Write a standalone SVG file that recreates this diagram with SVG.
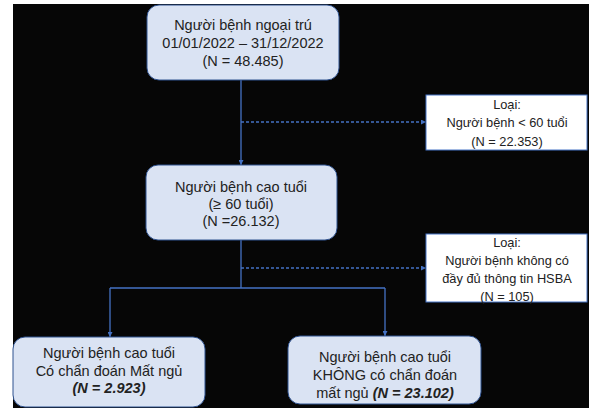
<svg xmlns="http://www.w3.org/2000/svg" width="589" height="408" viewBox="0 0 589 408">
<style>
.box{fill:#dae3f3;stroke:#2f528f;stroke-width:1}
.exc{fill:#ffffff;stroke:#4472c4;stroke-width:1}
.t{font-family:"Liberation Sans",Arial,sans-serif;font-size:14.5px;fill:#222;text-anchor:middle}
.e{font-family:"Liberation Sans",Arial,sans-serif;font-size:12.8px;fill:#222;text-anchor:middle}
.line{stroke:#4472c4;stroke-width:1.3;fill:none}
.dash{stroke:#4472c4;stroke-width:1.3;fill:none;stroke-dasharray:3 2}
</style>
<defs>
<marker id="ah" viewBox="0 0 6 6" refX="6" refY="3" markerWidth="5" markerHeight="5" orient="auto" markerUnits="userSpaceOnUse">
<path d="M0,0 L6,3 L0,6 Z" fill="#4472c4"/>
</marker>
</defs>
<rect id="background" x="13" y="4" width="576" height="404" fill="#060606"/>
<g id="connectors">
<path class="line" d="M241,80 V165" marker-end="url(#ah)"/>
<path class="dash" d="M241,122 H426" marker-end="url(#ah)"/>
<path class="line" d="M241,240 V288"/>
<path class="dash" d="M241,268 H426" marker-end="url(#ah)"/>
<path class="line" d="M110,288 H385"/>
<path class="line" d="M110,288 V337" marker-end="url(#ah)"/>
<path class="line" d="M385,288 V336" marker-end="url(#ah)"/>
</g>
<g id="n1">
<rect class="box" x="147" y="5" width="192" height="75" rx="12"/>
<text class="t" x="243" y="30">Người bệnh ngoại trú</text>
<text class="t" x="243" y="48">01/01/2022 – 31/12/2022</text>
<text class="t" x="243" y="66">(N = 48.485)</text>
</g>
<g id="n2">
<rect class="box" x="146" y="165" width="191" height="75" rx="12"/>
<text class="t" x="241" y="192">Người bệnh cao tuổi</text>
<text class="t" x="241" y="209">(≥ 60 tuổi)</text>
<text class="t" x="241" y="226">(N =26.132)</text>
</g>
<g id="x1">
<rect class="exc" x="426" y="95" width="161" height="55"/>
<text class="e" x="507" y="109">Loại:</text>
<text class="e" x="507" y="127">Người bệnh &lt; 60 tuổi</text>
<text class="e" x="507" y="146">(N = 22.353)</text>
</g>
<g id="x2">
<rect class="exc" x="426" y="234" width="161" height="68"/>
<text class="e" x="507" y="247">Loại:</text>
<text class="e" x="507" y="265">Người bệnh không có</text>
<text class="e" x="507" y="283">đầy đủ thông tin HSBA</text>
<text class="e" x="507" y="301">(N = 105)</text>
</g>
<g id="n3">
<rect class="box" x="13" y="337" width="192" height="70" rx="12"/>
<text class="t" x="109" y="358">Người bệnh cao tuổi</text>
<text class="t" x="109" y="376">Có chẩn đoán Mất ngủ</text>
<text class="t" x="109" y="393" font-weight="bold" font-style="italic">(N = 2.923)</text>
</g>
<g id="n4">
<rect class="box" x="288" y="336" width="193" height="68" rx="12"/>
<text class="t" x="385" y="362">Người bệnh cao tuổi</text>
<text class="t" x="385" y="380">KHÔNG có chẩn đoán</text>
<text class="t" x="385" y="398">mất ngủ <tspan font-weight="bold" font-style="italic">(N = 23.102)</tspan></text>
</g>
</svg>
